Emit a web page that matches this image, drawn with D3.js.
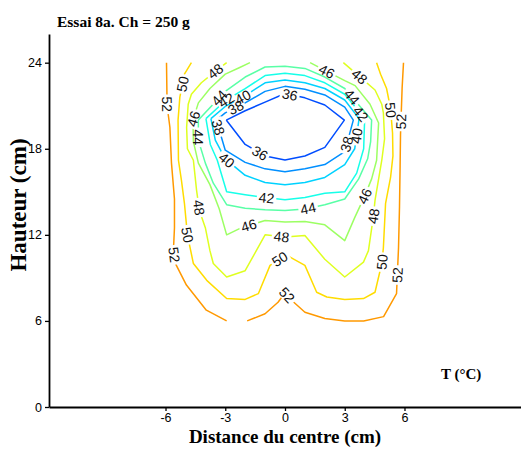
<!DOCTYPE html>
<html>
<head>
<meta charset="utf-8">
<script src="https://cdn.jsdelivr.net/npm/d3@7"></script>
<style>
  body { margin: 0; background: #fff; }
  svg { display: block; }
</style>
</head>
<body>
<svg id="chart" width="521" height="454"></svg>
<script>
// Isotherm levels (°C) and axis ticks
const levels = [36, 38, 40, 42, 44, 46, 48, 50, 52];
const xTicks = [-6, -3, 0, 3, 6];
const yTicks = [0, 6, 12, 18, 24];

// Isotherm polylines: [distance from centre (cm), height (cm)]
const iso36 = [[-2.95,20.0],[-2.0,20.65],[-1.0,21.25],[0,21.85],[1.0,21.55],[2.0,21.05],[2.98,20.0],[2.0,18.1],[1.0,17.5],[0,17.22],[-1.0,17.5],[-2.0,18.3],[-2.95,20.0]];
const iso38 = [[-3.45,20.0],[-3.0,20.5],[-2.0,21.2],[-1.0,22.0],[0,22.35],[1.0,22.15],[2.0,21.75],[3.0,20.9],[3.43,20.0],[3.0,17.8],[2.0,16.9],[1.0,16.6],[0,16.4],[-1.0,16.6],[-2.0,17.05],[-3.0,17.9],[-3.45,20.0]];
const iso40 = [[-3.72,20.1],[-3.0,20.95],[-2.0,21.7],[-1.0,22.6],[0,22.8],[1.0,22.6],[2.0,22.2],[3.0,21.4],[3.72,20.1],[3.5,18.0],[3.0,16.9],[2.0,16.0],[1.0,15.65],[0,15.5],[-1.0,15.65],[-2.0,16.15],[-3.0,17.3],[-3.5,18.6],[-3.72,20.1]];
const iso42 = [[-3.97,20.1],[-3.0,21.35],[-2.0,22.2],[-1.0,23.1],[0,23.27],[1.0,23.1],[2.0,22.6],[3.0,21.8],[4.0,20.1],[3.95,18.0],[3.6,16.3],[3.0,15.0],[2.0,14.9],[1.0,14.6],[0,14.45],[-1.0,14.6],[-2.0,14.8],[-2.93,15.0],[-3.4,17.2],[-3.75,18.3],[-3.97,20.1]];
const iso44 = [[-4.35,20.0],[-3.0,22.0],[-2.0,23.0],[-1.0,23.7],[0,23.75],[1.0,23.6],[2.0,23.0],[3.0,22.2],[4.35,20.0],[4.3,18.5],[4.15,17.3],[3.7,15.9],[3.0,14.5],[2.0,14.1],[1.0,13.8],[0,13.7],[-1.0,13.75],[-2.0,13.85],[-2.93,14.1],[-3.6,15.6],[-4.0,17.0],[-4.35,18.6],[-4.35,20.0]];
const iso46 = [[-1.76,24.0],[-2.3,23.65],[-3.0,23.2],[-3.77,22.2],[-4.35,21.2],[-4.62,20.0],[-4.6,18.5],[-4.35,17.0],[-3.77,15.5],[-3.3,13.8],[-2.93,12.0],[-2.18,12.5],[-1.0,13.0],[0,12.9],[1.0,12.93],[2.0,12.7],[3.0,11.6],[3.5,13.2],[4.0,14.7],[4.35,15.9],[4.6,17.2],[4.7,19.8],[4.27,21.1],[3.52,22.4],[3.0,22.75],[2.1,23.4],[1.26,24.0]];
const iso48 = [[-2.93,24.0],[-3.5,23.4],[-4.2,22.6],[-4.7,21.8],[-4.86,21.1],[-4.94,19.5],[-4.9,18.0],[-4.6,17.2],[-4.44,15.1],[-4.3,13.7],[-4.0,12.5],[-3.77,10.9],[-3.6,10.0],[-2.93,9.06],[-2.0,9.5],[-1.0,12.0],[0,11.85],[1.0,11.95],[2.0,10.3],[3.0,9.06],[3.94,10.1],[4.19,10.9],[4.44,13.3],[4.52,14.4],[4.86,17.2],[5.0,18.7],[4.94,20.5],[4.86,21.1],[4.52,22.1],[3.69,23.1],[2.93,24.0]];
const iso50 = [[-4.7,24.0],[-5.05,23.2],[-5.28,21.6],[-5.37,20.0],[-5.35,17.2],[-5.2,15.8],[-5.05,14.2],[-4.9,12.0],[-4.6,10.0],[-3.93,8.83],[-2.93,7.56],[-2.0,7.5],[-1.34,7.9],[-0.75,9.87],[0.05,10.6],[1.0,9.87],[1.59,8.0],[2.1,7.67],[3.0,7.5],[3.94,7.56],[4.52,8.0],[4.86,10.0],[4.94,11.1],[5.05,14.2],[5.3,16.0],[5.42,17.5],[5.4,19.1],[5.3,20.8],[5.1,22.2],[4.8,23.2],[4.6,24.0]];
const iso52West = [[-5.95,24.0],[-5.92,21.0],[-5.78,19.5],[-5.7,17.0],[-5.55,14.5],[-5.55,12.5],[-5.6,11.0],[-5.5,10.0],[-4.95,8.5],[-3.95,6.75],[-2.93,6.0]];
const iso52East = [[-1.9,6.0],[-1.0,6.5],[-0.35,7.3],[0,7.95],[0.4,7.35],[1.0,6.6],[2.0,6.17],[3.0,6.0],[3.95,6.0],[4.95,6.3],[5.6,7.9],[5.65,9.5],[5.7,11.1],[5.75,14.0],[5.78,16.8],[5.8,19.0],[5.88,22.2],[5.95,24.0]];

// Approximate label anchors per level (cm); each is snapped onto its isotherm
const lab36 = [[0.25,21.8],[-1.3,17.6]];
const lab38 = [[-2.43,20.75],[-3.35,19.5],[3.0,18.35]];
const lab40 = [[-2.1,21.55],[-2.93,17.2],[3.62,18.9]];
const lab42 = [[-2.93,21.35],[-0.92,14.65],[3.77,20.4]];
const lab44 = [[-3.35,21.6],[-4.4,18.8],[1.17,13.8],[3.35,21.6]];
const lab46 = [[-4.62,20.1],[-1.84,12.75],[4.0,14.7],[2.1,23.4]];
const lab48 = [[-3.5,23.4],[-4.35,13.9],[-0.17,11.9],[4.44,13.3],[3.72,23.0]];
const lab50 = [[-5.1,22.5],[-4.88,12.0],[-0.25,10.3],[4.88,10.1],[5.36,20.7]];
const lab52 = [[-5.93,21.1],[-5.58,10.6],[0.1,7.8],[5.65,9.2],[5.85,19.9]];

const isoLines = {36:[iso36],38:[iso38],40:[iso40],42:[iso42],44:[iso44],46:[iso46],48:[iso48],50:[iso50],52:[iso52West, iso52East]};
const isoLabels = {36:lab36,38:lab38,40:lab40,42:lab42,44:lab44,46:lab46,48:lab48,50:lab50,52:lab52};

const svg = d3.select("#chart");
const x = d3.scaleLinear().domain([-11.85, 11.85]).range([49, 521]);
const y = d3.scaleLinear().domain([0, 26]).range([407, 34]);

// jet-style colouring of the isotherm levels
const clamp01 = v => Math.max(0, Math.min(1, v));
const jet = t => d3.rgb(255 * clamp01(1.5 - Math.abs(4 * t - 3)),
                         255 * clamp01(1.5 - Math.abs(4 * t - 2)),
                         255 * clamp01(1.5 - Math.abs(4 * t - 1))).formatHex();
const levelT = d3.scaleLinear().domain([36, 52]).range([0.2, 0.725]);
const color = lv => jet(levelT(lv));

const line = d3.line().x(d => x(d[0])).y(d => y(d[1]));

// Closest point on a level's polylines, with the local direction (deg)
function snap(pieces, p) {
  let best = null;
  pieces.forEach(pts => {
    for (let i = 0; i < pts.length - 1; i++) {
      const ax = x(pts[i][0]), ay = y(pts[i][1]);
      const bx = x(pts[i + 1][0]), by = y(pts[i + 1][1]);
      const dx = bx - ax, dy = by - ay, L = dx * dx + dy * dy;
      let t = L ? ((p[0] - ax) * dx + (p[1] - ay) * dy) / L : 0;
      t = Math.max(0, Math.min(1, t));
      const qx = ax + t * dx, qy = ay + t * dy;
      const d = (qx - p[0]) ** 2 + (qy - p[1]) ** 2;
      if (!best || d < best.d) best = { d, qx, qy, ang: Math.atan2(dy, dx) * 180 / Math.PI };
    }
  });
  let a = best.ang;
  if (a > 90) a -= 180;
  if (a <= -90) a += 180;
  return { x: best.qx, y: best.qy, ang: a };
}

const defs = svg.append("defs");
const gLines = svg.append("g");
const gLabels = svg.append("g")
  .attr("font-family", "'Liberation Sans', Arial, Helvetica, sans-serif")
  .attr("font-size", 14)
  .attr("fill", "#111");

levels.forEach(lv => {
  const pieces = isoLines[lv];
  const placed = isoLabels[lv].map(p => snap(pieces, [x(p[0]), y(p[1])]));

  const texts = gLabels.selectAll(null)
    .data(placed)
    .join("text")
    .attr("text-anchor", "middle")
    .attr("dy", "0.36em")
    .attr("transform", d => `translate(${d.x},${d.y}) rotate(${d.ang})`)
    .text(lv);

  // gap in the isotherm under each of its labels
  const mask = defs.append("mask")
    .attr("id", "gap" + lv)
    .attr("maskUnits", "userSpaceOnUse")
    .attr("x", 0).attr("y", 0).attr("width", 521).attr("height", 454);
  mask.append("rect").attr("width", 521).attr("height", 454).attr("fill", "#fff");
  texts.each(function (d) {
    const w = this.getComputedTextLength() + 4;
    mask.append("rect")
      .attr("x", -w / 2).attr("y", -6).attr("width", w).attr("height", 12)
      .attr("transform", `translate(${d.x},${d.y}) rotate(${d.ang})`)
      .attr("fill", "#000");
  });

  gLines.selectAll(null)
    .data(pieces)
    .join("path")
    .attr("d", line)
    .attr("fill", "none")
    .attr("stroke", color(lv))
    .attr("stroke-width", 1.5)
    .attr("stroke-linejoin", "round")
    .attr("mask", `url(#gap${lv})`);
});

// Axes
const xAxis = svg.append("g")
  .attr("transform", `translate(0,${y(0)})`)
  .call(d3.axisBottom(x).tickValues(xTicks).tickFormat(d => String(d))
        .tickSize(4).tickSizeOuter(0).tickPadding(2));
const yAxis = svg.append("g")
  .attr("transform", `translate(${x.range()[0]},0)`)
  .call(d3.axisLeft(y).tickValues(yTicks).tickFormat(d => String(d))
        .tickSize(4).tickSizeOuter(0).tickPadding(3));
[xAxis, yAxis].forEach(g => {
  g.select(".domain").attr("stroke", "#000").attr("stroke-width", 1.8);
  g.selectAll(".tick line").attr("stroke", "#000").attr("stroke-width", 1.3);
  g.selectAll(".tick text")
    .attr("font-family", "'Liberation Sans', Arial, Helvetica, sans-serif")
    .attr("font-size", 12.5).attr("fill", "#000");
});

// Titles
const serif = "'Liberation Serif', 'Times New Roman', Times, serif";
svg.append("text")
  .attr("x", 57).attr("y", 27)
  .attr("font-family", serif).attr("font-weight", "bold").attr("font-size", 15.5)
  .text("Essai 8a. Ch = 250 g");
svg.append("text")
  .attr("x", 285).attr("y", 443)
  .attr("text-anchor", "middle")
  .attr("font-family", serif).attr("font-weight", "bold").attr("font-size", 19)
  .text("Distance du centre (cm)");
svg.append("text")
  .attr("transform", "translate(26,205) rotate(-90)")
  .attr("text-anchor", "middle")
  .attr("font-family", serif).attr("font-weight", "bold").attr("font-size", 23)
  .text("Hauteur (cm)");
svg.append("text")
  .attr("x", 441).attr("y", 379)
  .attr("font-family", serif).attr("font-weight", "bold").attr("font-size", 15)
  .text("T (°C)");
</script>
</body>
</html>
